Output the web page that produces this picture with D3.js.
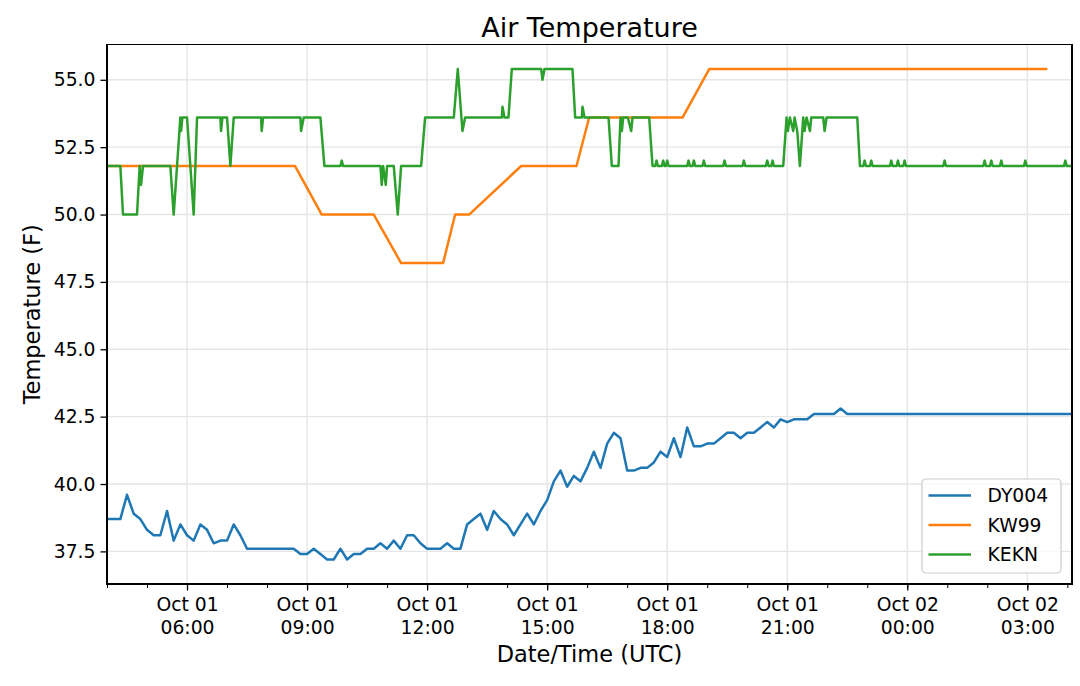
<!DOCTYPE html>
<html>
<head>
<meta charset="utf-8">
<script src="https://cdn.jsdelivr.net/npm/d3@7"></script>
<style>
    body { margin: 0; background: #fff; }
    svg { display: block; font-family: 'DejaVu Sans', sans-serif; }
</style>
</head>
<body>
<div id="chart"></div>
<script>
'use strict';

// series names and colours (matplotlib tab10)
var stations = ['DY004', 'KW99', 'KEKN'],
    colors = ['#1f77b4', '#ff7f0e', '#2ca02c'];

// DY004 reports every 10 minutes, starting at this time
var dy004Start = '10-01 04:00',
    dy004Step = 10;
var dy004Values = [
    38.7, 38.7, 38.7, 39.6, 38.9, 38.7, 38.3, 38.1, 38.1, 39.0,
    37.9, 38.5, 38.1, 37.9, 38.5, 38.3, 37.8, 37.9, 37.9, 38.5,
    38.1, 37.6, 37.6, 37.6, 37.6, 37.6, 37.6, 37.6, 37.6, 37.4,
    37.4, 37.6, 37.4, 37.2, 37.2, 37.6, 37.2, 37.4, 37.4, 37.6,
    37.6, 37.8, 37.6, 37.9, 37.6, 38.1, 38.1, 37.8, 37.6, 37.6,
    37.6, 37.8, 37.6, 37.6, 38.5, 38.7, 38.9, 38.3, 39.0, 38.7,
    38.5, 38.1, 38.5, 38.9, 38.5, 39.0, 39.4, 40.1, 40.5, 39.9,
    40.3, 40.1, 40.6, 41.2, 40.6, 41.5, 41.9, 41.7, 40.5, 40.5,
    40.6, 40.6, 40.8, 41.2, 41.0, 41.7, 41.0, 42.1, 41.4, 41.4,
    41.5, 41.5, 41.7, 41.9, 41.9, 41.7, 41.9, 41.9, 42.1, 42.3,
    42.1, 42.4, 42.3, 42.4, 42.4, 42.4, 42.6, 42.6, 42.6, 42.6,
    42.8, 42.6, 42.6, 42.6, 42.6, 42.6, 42.6, 42.6, 42.6, 42.6,
    42.6, 42.6, 42.6, 42.6, 42.6, 42.6, 42.6, 42.6, 42.6, 42.6,
    42.6, 42.6, 42.6, 42.6, 42.6, 42.6, 42.6, 42.6, 42.6, 42.6,
    42.6, 42.6, 42.6, 42.6, 42.6, 42.6
];

// KW99: hourly obs, only the corners are kept
var kw99Points = [
    ['10-01 04:00', 51.8], ['10-01 08:42', 51.8], ['10-01 09:22', 50.0],
    ['10-01 10:40', 50.0], ['10-01 11:21', 48.2], ['10-01 12:24', 48.2],
    ['10-01 12:42', 50.0], ['10-01 13:03', 50.0], ['10-01 14:21', 51.8],
    ['10-01 15:44', 51.8], ['10-01 16:03', 53.6], ['10-01 18:23', 53.6],
    ['10-01 19:03', 55.4], ['10-02 03:30', 55.4]
];

// KEKN: routine + special obs
var keknPoints = [
    ['10-01 04:00', 51.8], ['10-01 04:20', 51.8], ['10-01 04:24', 50.0],
    ['10-01 04:45', 50.0], ['10-01 04:49', 51.8], ['10-01 04:51', 51.1],
    ['10-01 04:54', 51.8], ['10-01 05:35', 51.8], ['10-01 05:40', 50.0],
    ['10-01 05:50', 53.6], ['10-01 05:51', 53.1], ['10-01 05:53', 53.6],
    ['10-01 06:00', 53.6], ['10-01 06:10', 50.0], ['10-01 06:15', 53.6],
    ['10-01 06:50', 53.6], ['10-01 06:51', 53.1], ['10-01 06:53', 53.6],
    ['10-01 07:00', 53.6], ['10-01 07:05', 51.8], ['10-01 07:10', 53.6],
    ['10-01 07:51', 53.6], ['10-01 07:52', 53.1], ['10-01 07:54', 53.6],
    ['10-01 08:50', 53.6], ['10-01 08:51', 53.1], ['10-01 08:55', 53.6],
    ['10-01 09:20', 53.6], ['10-01 09:26', 51.8], ['10-01 09:50', 51.8],
    ['10-01 09:52', 52.0], ['10-01 09:54', 51.8], ['10-01 10:50', 51.8],
    ['10-01 10:52', 51.1], ['10-01 10:54', 51.8], ['10-01 10:58', 51.1],
    ['10-01 11:00', 51.8], ['10-01 11:10', 51.8], ['10-01 11:16', 50.0],
    ['10-01 11:21', 51.8], ['10-01 11:51', 51.8], ['10-01 11:57', 53.6],
    ['10-01 12:40', 53.6], ['10-01 12:46', 55.4], ['10-01 12:53', 53.1],
    ['10-01 12:57', 53.6], ['10-01 13:52', 53.6], ['10-01 13:53', 54.0],
    ['10-01 13:56', 53.6], ['10-01 14:02', 53.6], ['10-01 14:07', 55.4],
    ['10-01 14:51', 55.4], ['10-01 14:53', 55.0], ['10-01 14:56', 55.4],
    ['10-01 15:38', 55.4], ['10-01 15:42', 53.6], ['10-01 15:52', 53.6],
    ['10-01 15:53', 54.0], ['10-01 15:56', 53.6], ['10-01 16:32', 53.6],
    ['10-01 16:37', 51.8], ['10-01 16:47', 51.8], ['10-01 16:50', 53.6],
    ['10-01 16:52', 53.1], ['10-01 16:54', 53.6], ['10-01 17:01', 53.6],
    ['10-01 17:06', 53.1], ['10-01 17:08', 53.6], ['10-01 17:33', 53.6],
    ['10-01 17:38', 51.8],
    ['10-01 17:42', 51.8], ['10-01 17:44', 52.0], ['10-01 17:46', 51.8],
    ['10-01 17:52', 51.8], ['10-01 17:54', 52.0], ['10-01 17:56', 51.8],
    ['10-01 17:58', 51.8], ['10-01 18:00', 52.0], ['10-01 18:02', 51.8],
    ['10-01 18:30', 51.8], ['10-01 18:32', 52.0], ['10-01 18:34', 51.8],
    ['10-01 18:38', 51.8], ['10-01 18:40', 52.0], ['10-01 18:42', 51.8],
    ['10-01 18:53', 51.8], ['10-01 18:55', 52.0], ['10-01 18:57', 51.8],
    ['10-01 19:24', 51.8], ['10-01 19:26', 52.0], ['10-01 19:28', 51.8],
    ['10-01 19:53', 51.8], ['10-01 19:55', 52.0], ['10-01 19:57', 51.8],
    ['10-01 20:28', 51.8], ['10-01 20:30', 52.0], ['10-01 20:32', 51.8],
    ['10-01 20:36', 51.8], ['10-01 20:38', 52.0], ['10-01 20:40', 51.8],
    ['10-01 20:54', 51.8], ['10-01 20:59', 53.6], ['10-01 21:01', 53.1],
    ['10-01 21:04', 53.6], ['10-01 21:09', 53.1], ['10-01 21:11', 53.6],
    ['10-01 21:15', 53.1], ['10-01 21:19', 51.8], ['10-01 21:24', 53.6],
    ['10-01 21:26', 53.1], ['10-01 21:29', 53.6], ['10-01 21:34', 53.1],
    ['10-01 21:36', 53.6], ['10-01 21:54', 53.6], ['10-01 21:56', 53.1],
    ['10-01 21:59', 53.6], ['10-01 22:45', 53.6], ['10-01 22:49', 51.8],
    ['10-01 22:54', 51.8], ['10-01 22:56', 52.0], ['10-01 22:58', 51.8],
    ['10-01 23:04', 51.8], ['10-01 23:06', 52.0], ['10-01 23:08', 51.8],
    ['10-01 23:34', 51.8], ['10-01 23:36', 52.0], ['10-01 23:38', 51.8],
    ['10-01 23:44', 51.8], ['10-01 23:46', 52.0], ['10-01 23:48', 51.8],
    ['10-01 23:54', 51.8], ['10-01 23:56', 52.0], ['10-01 23:58', 51.8],
    ['10-02 00:54', 51.8], ['10-02 00:56', 52.0], ['10-02 00:58', 51.8],
    ['10-02 01:54', 51.8], ['10-02 01:56', 52.0], ['10-02 01:58', 51.8],
    ['10-02 02:04', 51.8], ['10-02 02:06', 52.0], ['10-02 02:08', 51.8],
    ['10-02 02:19', 51.8], ['10-02 02:21', 52.0], ['10-02 02:23', 51.8],
    ['10-02 02:55', 51.8], ['10-02 02:57', 52.0], ['10-02 02:59', 51.8],
    ['10-02 03:55', 51.8], ['10-02 03:57', 52.0], ['10-02 03:59', 51.8],
    ['10-02 04:07', 51.8]
];

// axes
var xDomain = ['10-01 04:00', '10-02 04:07'],
    yDomain = [36.29, 56.31],
    yTicks = [37.5, 40.0, 42.5, 45.0, 47.5, 50.0, 52.5, 55.0];

var title = 'Air Temperature',
    xLabel = 'Date/Time (UTC)',
    yLabel = 'Temperature (F)';

var parseTime = d3.utcParse('%m-%d %H:%M'),
    fmtDay = d3.utcFormat('%b %d'),
    fmtHour = d3.utcFormat('%H:%M');

var W = 1080, H = 686,
    margin = {left: 107, right: 8, top: 44.5, bottom: 102},
    fontFamily = 'DejaVu Sans, sans-serif';

var svg, gPlot, x, y;

function setup(){
    svg = d3.select('#chart').append('svg')
        .attr('width', W)
        .attr('height', H);

    x = d3.scaleUtc()
        .domain(xDomain.map(parseTime))
        .range([margin.left, W - margin.right]);
    y = d3.scaleLinear()
        .domain(yDomain)
        .range([H - margin.bottom, margin.top]);

    svg.append('clipPath').attr('id', 'plot-clip')
        .append('rect')
        .attr('x', x.range()[0])
        .attr('y', y.range()[1])
        .attr('width', x.range()[1] - x.range()[0])
        .attr('height', y.range()[0] - y.range()[1]);

    draw();
}

function buildSeries(){
    var t0 = parseTime(dy004Start);
    var dy = dy004Values.map(function(v, i){
        return {t: d3.utcMinute.offset(t0, i * dy004Step), v: v};
    });
    var toObj = function(p){ return {t: parseTime(p[0]), v: p[1]}; };
    return [dy, kw99Points.map(toObj), keknPoints.map(toObj)];
}

function draw(){
    var x0 = x.range()[0], x1 = x.range()[1],
        y0 = y.range()[0], y1 = y.range()[1];
    var tEnd = d3.utcMinute.offset(x.domain()[1], 1);
    var majorTicks = d3.utcHour.every(3).range(x.domain()[0], tEnd),
        minorTicks = d3.utcHour.every(1).range(x.domain()[0], tEnd);

    // grid
    var gGrid = svg.append('g').attr('class', 'grid');
    gGrid.selectAll('.gx').data(majorTicks).enter().append('line')
        .attr('x1', function(d){ return x(d); })
        .attr('x2', function(d){ return x(d); })
        .attr('y1', y1).attr('y2', y0)
        .style('stroke', '#e6e6e6')
        .style('stroke-width', 1.4);
    gGrid.selectAll('.gy').data(yTicks).enter().append('line')
        .attr('x1', x0).attr('x2', x1)
        .attr('y1', function(d){ return y(d); })
        .attr('y2', function(d){ return y(d); })
        .style('stroke', '#e6e6e6')
        .style('stroke-width', 1.4);

    // lines
    var series = buildSeries();
    var line = d3.line()
        .x(function(d){ return x(d.t); })
        .y(function(d){ return y(d.v); });

    gPlot = svg.append('g').attr('clip-path', 'url(#plot-clip)');
    gPlot.selectAll('.series').data(series).enter().append('path')
        .attr('class', 'series')
        .attr('d', line)
        .style('fill', 'none')
        .style('stroke', function(d, i){ return colors[i]; })
        .style('stroke-width', 2.5)
        .style('stroke-linejoin', 'round')
        .style('stroke-linecap', 'butt');

    // x axis, minor then major ticks
    svg.append('g')
        .attr('transform', 'translate(0,' + y0 + ')')
        .call(d3.axisBottom(x).tickValues(minorTicks).tickSize(4).tickFormat(''))
        .call(function(g){ g.select('.domain').remove(); });

    var gx = svg.append('g')
        .attr('transform', 'translate(0,' + y0 + ')')
        .call(d3.axisBottom(x).tickValues(majorTicks).tickSize(6.5).tickFormat(''))
        .attr('font-family', fontFamily)
        .attr('font-size', 18.75);
    gx.select('.domain').remove();
    gx.selectAll('.tick').each(function(d){
        var t = d3.select(this).append('text')
            .attr('fill', '#000')
            .attr('text-anchor', 'middle');
        t.append('tspan').attr('x', 0).attr('y', 27).text(fmtDay(d));
        t.append('tspan').attr('x', 0).attr('y', 50).text(fmtHour(d));
    });
    gx.selectAll('.tick line').style('stroke-width', 1.3);

    // y axis
    var gy = svg.append('g')
        .attr('transform', 'translate(' + x0 + ',0)')
        .call(d3.axisLeft(y).tickValues(yTicks).tickSize(6.5).tickPadding(5).tickFormat(d3.format('.1f')))
        .attr('font-family', fontFamily)
        .attr('font-size', 18.75);
    gy.select('.domain').remove();
    gy.selectAll('.tick text').attr('fill', '#000');
    gy.selectAll('.tick line').style('stroke-width', 1.3);

    // frame
    svg.append('rect')
        .attr('x', x0).attr('y', y1)
        .attr('width', x1 - x0).attr('height', y0 - y1)
        .style('fill', 'none')
        .style('stroke', '#000')
        .style('stroke-width', 1.3)
        .style('shape-rendering', 'crispEdges');

    // labels
    svg.append('text')
        .attr('x', (x0 + x1) / 2).attr('y', 36.7)
        .attr('text-anchor', 'middle')
        .style('font-size', '27px')
        .text(title);
    svg.append('text')
        .attr('x', (x0 + x1) / 2).attr('y', 662)
        .attr('text-anchor', 'middle')
        .style('font-size', '22.5px')
        .text(xLabel);
    svg.append('text')
        .attr('transform', 'translate(40,' + ((y0 + y1) / 2) + ') rotate(-90)')
        .attr('text-anchor', 'middle')
        .style('font-size', '22.5px')
        .text(yLabel);

    // legend
    var lg = svg.append('g').attr('transform', 'translate(922,479)');
    lg.append('rect')
        .attr('width', 139).attr('height', 94)
        .attr('rx', 4).attr('ry', 4)
        .style('fill', '#fff').style('fill-opacity', 0.8)
        .style('stroke', '#cccccc').style('stroke-width', 1.2);
    var items = lg.selectAll('.item').data(stations).enter().append('g')
        .attr('class', 'item')
        .attr('transform', function(d, i){ return 'translate(0,' + (16.5 + i * 29.5) + ')'; });
    items.append('line')
        .attr('x1', 6.5).attr('x2', 49)
        .style('stroke', function(d, i){ return colors[i]; })
        .style('stroke-width', 2.5);
    items.append('text')
        .attr('x', 65.5).attr('y', 6.8)
        .style('font-size', '18.75px')
        .text(function(d){ return d; });
}

setup();
</script>
</body>
</html>
